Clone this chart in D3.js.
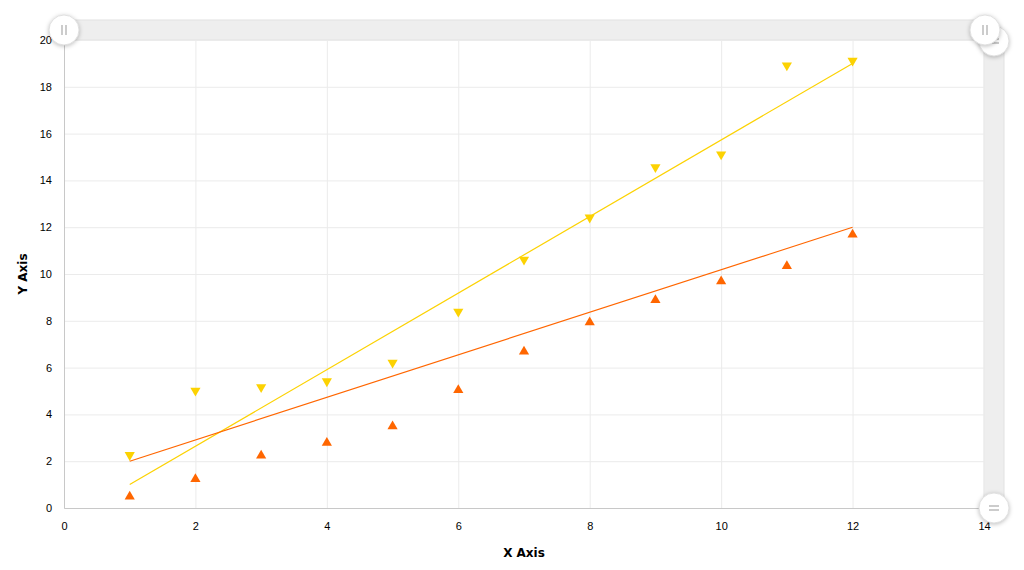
<!DOCTYPE html>
<html>
<head>
<meta charset="utf-8">
<script src="https://cdn.jsdelivr.net/npm/d3@7"></script>
<style>
  body { margin: 0; background: #fff; }
  svg { font-family: Verdana, "DejaVu Sans", sans-serif; }
</style>
</head>
<body>
<script>
// xy scatter with two trend lines

const xValues = [1, 2, 3, 4, 5, 6, 7, 8, 9, 10, 11, 12];
const yellowValues = [2.2, 4.95, 5.1, 5.35, 6.15, 8.33, 10.55, 12.35, 14.5, 15.05, 18.85, 19.05];
const orangeValues = [0.55, 1.3, 2.3, 2.85, 3.55, 5.1, 6.75, 8.0, 8.95, 9.75, 10.4, 11.75];
const yellowTrend = [[1, 1], [12, 19]];
const orangeTrend = [[1, 2], [12, 12]];
const xTicks = [0, 2, 4, 6, 8, 10, 12, 14];
const yTicks = [0, 2, 4, 6, 8, 10, 12, 14, 16, 18, 20];

const svgWidth = 1024;
const svgHeight = 570;
const plotL = 64, plotR = 984, plotT = 40, plotB = 508;

const xScale = d3.scaleLinear().domain([0, 14]).range([plotL, plotR]);
const yScale = d3.scaleLinear().domain([0, 20]).range([plotB, plotT]);

const svg = d3.select('body').append('svg')
  .attr('width', svgWidth)
  .attr('height', svgHeight);

// scrollbars
svg.append('rect')
  .attr('x', plotL).attr('y', 20)
  .attr('width', plotR - plotL).attr('height', 20)
  .attr('fill', '#eeeeee').attr('stroke', '#e2e2e2');
svg.append('rect')
  .attr('x', plotR).attr('y', plotT)
  .attr('width', 20).attr('height', plotB - plotT)
  .attr('fill', '#eeeeee').attr('stroke', '#e2e2e2');

// grid
svg.append('g')
  .attr('transform', `translate(0,${plotB})`)
  .call(d3.axisBottom(xScale).tickValues(xTicks).tickSize(-(plotB - plotT)).tickFormat(''))
  .call(g => g.select('.domain').remove())
  .call(g => g.selectAll('line').attr('stroke', '#ebebeb'));
svg.append('g')
  .attr('transform', `translate(${plotL},0)`)
  .call(d3.axisLeft(yScale).tickValues(yTicks).tickSize(-(plotR - plotL)).tickFormat(''))
  .call(g => g.select('.domain').remove())
  .call(g => g.selectAll('line').attr('stroke', '#ebebeb'));

// axes
const xAxis = svg.append('g')
  .attr('transform', `translate(0,${plotB})`)
  .call(d3.axisBottom(xScale).tickValues(xTicks).tickSize(0).tickPadding(14));
xAxis.select('.domain').attr('stroke', '#c8c8c8');
xAxis.selectAll('text').attr('font-size', 11).attr('fill', '#000');

const yAxis = svg.append('g')
  .attr('transform', `translate(${plotL},0)`)
  .call(d3.axisLeft(yScale).tickValues(yTicks).tickSize(0).tickPadding(12));
yAxis.select('.domain').attr('stroke', '#c8c8c8');
yAxis.selectAll('text').attr('font-size', 11).attr('fill', '#000');

svg.append('text')
  .attr('x', (plotL + plotR) / 2).attr('y', 557)
  .attr('text-anchor', 'middle')
  .attr('font-size', 12).attr('font-weight', 'bold')
  .text('X Axis');
svg.append('text')
  .attr('transform', `translate(27,${(plotT + plotB) / 2}) rotate(-90)`)
  .attr('text-anchor', 'middle')
  .attr('font-size', 12).attr('font-weight', 'bold')
  .text('Y Axis');

// trend lines
const line = d3.line().x(d => xScale(d[0])).y(d => yScale(d[1]));
svg.append('path').datum(yellowTrend)
  .attr('d', line).attr('fill', 'none').attr('stroke', '#FCD202').attr('stroke-width', 1.2);
svg.append('path').datum(orangeTrend)
  .attr('d', line).attr('fill', 'none').attr('stroke', '#FF6600').attr('stroke-width', 1.2);

// points (d3 triangles sit on their centroid, nudge to box centre)
const tri = d3.symbol().type(d3.symbolTriangle).size(45);
svg.selectAll('.yellow')
  .data(xValues)
  .enter()
  .append('path')
  .attr('class', 'yellow')
  .attr('d', tri)
  .attr('fill', '#FCD202')
  .attr('transform', (d, i) => `translate(${xScale(d)},${yScale(yellowValues[i]) - 1.5}) rotate(180)`);
svg.selectAll('.orange')
  .data(xValues)
  .enter()
  .append('path')
  .attr('class', 'orange')
  .attr('d', tri)
  .attr('fill', '#FF6600')
  .attr('transform', (d, i) => `translate(${xScale(d)},${yScale(orangeValues[i]) + 1.5})`);

// scrollbar grips
const grips = [[64, 30, 'v'], [994, 41, 'h'], [985, 30, 'v'], [994, 508, 'h']];
const grip = svg.selectAll('.grip')
  .data(grips)
  .enter()
  .append('g')
  .attr('class', 'grip')
  .attr('transform', d => `translate(${d[0]},${d[1]})`);
grip.append('circle')
  .attr('r', 15)
  .attr('fill', '#fff')
  .attr('stroke', '#e0e0e0')
  .style('filter', 'drop-shadow(0px 1px 2px rgba(0,0,0,0.25))');
grip.append('path')
  .attr('d', d => d[2] === 'v' ? 'M-2,-5V5M2,-5V5' : 'M-5,-2H5M-5,2H5')
  .attr('stroke', '#999')
  .attr('stroke-width', 1);
</script>
</body>
</html>
